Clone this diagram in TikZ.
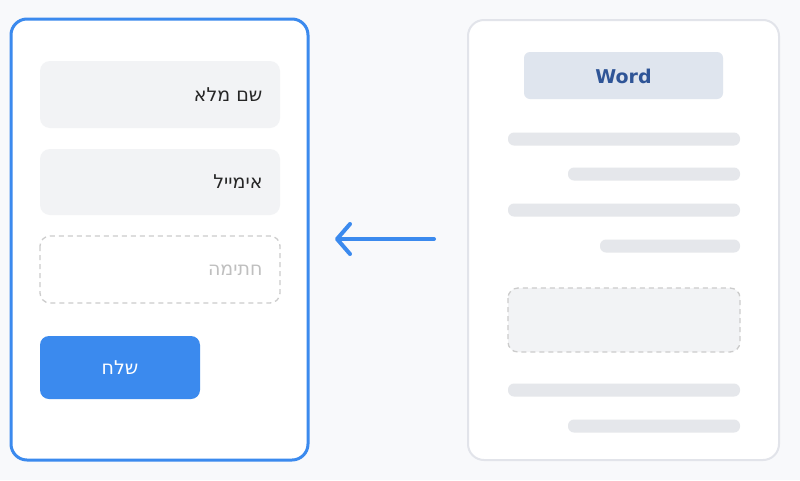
\documentclass[tikz,border=0pt]{standalone}
\usepackage{fontspec}
\setmainfont{DejaVu Sans}
\usetikzlibrary{arrows.meta}
\definecolor{bg}{HTML}{F8F9FB}
\definecolor{blu}{HTML}{3B8AEE}
\definecolor{fld}{HTML}{F2F3F5}
\definecolor{gline}{HTML}{E5E7EB}
\definecolor{pbord}{HTML}{E2E4EA}
\definecolor{wbox}{HTML}{DFE5EE}
\definecolor{wtxt}{HTML}{2F5597}
\begin{document}
\begin{tikzpicture}[x=1pt,y=-1pt,
  field/.style={fill=fld,rounded corners=10pt},
  bar/.style={fill=gline,rounded corners=6pt},
  lbl/.style={anchor=east,font=\fontsize{19}{22}\selectfont,text=black!85}]
\useasboundingbox (0,0) rectangle (800,480);
\fill[bg] (0,0) rectangle (800,480);
% left panel
\draw[blu,line width=3pt,fill=white,rounded corners=16pt] (11,19) rectangle (308,460);
\fill[field] (40,61) rectangle (280,128);
\node[lbl] (n1) at (266,95) {מלא שם};
\fill[field] (40,149) rectangle (280,215);
\node[lbl] (n2) at (266,182) {אימייל};
\draw[black!20,line width=1.3pt,dash pattern=on 5pt off 4pt,rounded corners=10pt] (40,236) rectangle (280,303);
\node[lbl,text=black!25] (n3) at (266,270) {חתימה};
\fill[blu,rounded corners=9pt] (40,336) rectangle (200,399);
\node[font=\fontsize{19}{22}\selectfont,text=white] (n4) at (120,368) {שלח};
% right panel
\draw[pbord,line width=2pt,fill=white,rounded corners=16pt] (468,20) rectangle (779,460);
\fill[wbox,rounded corners=6pt] (524,52) rectangle (723,99);
\node[font=\fontsize{19}{22}\selectfont\bfseries,text=wtxt] (w) at (623.5,76) {Word};
\fill[bar] (508,132.5) rectangle (740,145.5);
\fill[bar] (568,167.5) rectangle (740,180.5);
\fill[bar] (508,203.5) rectangle (740,216.5);
\fill[bar] (600,239.5) rectangle (740,252.5);
\draw[black!20,fill=fld,line width=1.3pt,dash pattern=on 5pt off 4pt,rounded corners=10pt] (508,288) rectangle (740,352);
\fill[bar] (508,383.5) rectangle (740,396.5);
\fill[bar] (568,419.5) rectangle (740,432.5);
% arrow
\coordinate (a1) at (434,239);
\coordinate (a2) at (335,239);
\draw[blu,line width=4pt,line cap=round,-{Straight Barb[length=13pt,width=30pt,line cap=round,line join=round]}] (a1) -- (a2);
\end{tikzpicture}
\end{document}
